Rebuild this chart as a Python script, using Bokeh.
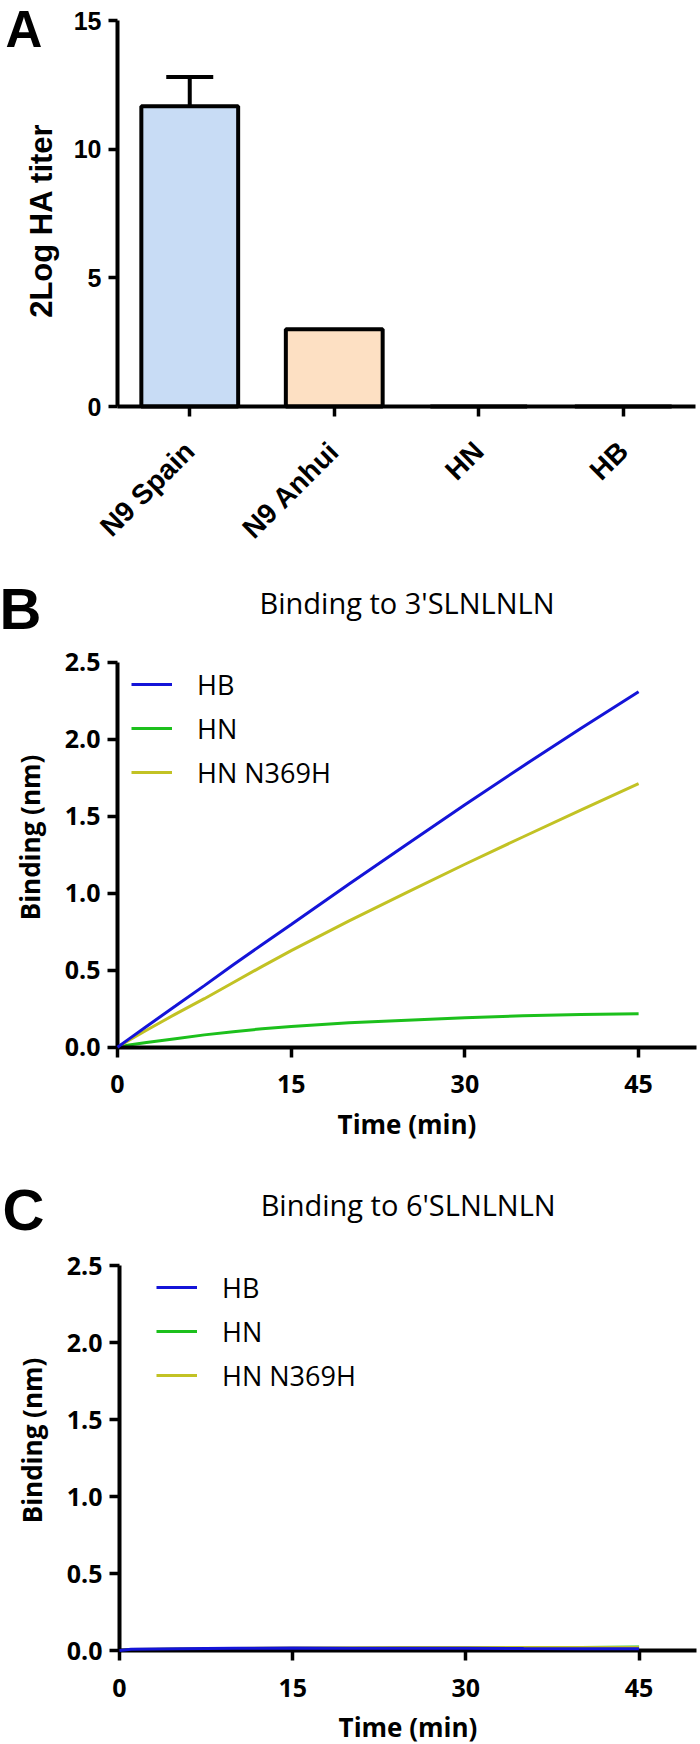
import math
from bokeh.plotting import figure
from bokeh.layouts import column
from bokeh.models import (Range1d, FixedTicker, Whisker, TeeHead, LinearAxis,
                          ColumnDataSource, Legend, LegendItem, Label,
                          NumeralTickFormatter)
from bokeh.embed import file_html
from bokeh.resources import INLINE

# ---------------- Panel A data ----------------
strains = ["N9 Spain", "N9 Anhui", "HN", "HB"]
titer_mean = [11.67, 3.0, 0.0, 0.0]
titer_err = [1.13, 0.0, 0.0, 0.0]
bar_colors = ["#c8dcf5", "#fde0c3", "#ffffff", "#ffffff"]
titer_ticks = [0, 5, 10, 15]

# ---------------- Panel B data (3'SLNLNLN) ----------------
time_b = [0, 1, 2.5, 5, 7.5, 10, 12.5, 15, 20, 25, 30, 35, 40, 45]
hb_b = [0, 0.054, 0.135, 0.267, 0.40, 0.535, 0.667, 0.797, 1.06, 1.318, 1.574, 1.825, 2.07, 2.308]
hn_b = [0, 0.014, 0.03, 0.055, 0.08, 0.10, 0.12, 0.134, 0.158, 0.175, 0.192, 0.204, 0.212, 0.218]
hnm_b = [0, 0.045, 0.11, 0.215, 0.315, 0.42, 0.525, 0.627, 0.82, 1.005, 1.188, 1.365, 1.54, 1.711]

# ---------------- Panel C data (6'SLNLNLN) ----------------
time_c = [0, 1, 5, 10, 15, 20, 25, 30, 35, 40, 45]
hb_c = [0.0, 0.008, 0.012, 0.014, 0.016, 0.015, 0.014, 0.015, 0.013, 0.012, 0.012]
hn_c = [0.0, 0.005, 0.008, 0.010, 0.012, 0.013, 0.014, 0.016, 0.018, 0.020, 0.022]
hnm_c = [0.0, 0.006, 0.010, 0.013, 0.016, 0.018, 0.019, 0.020, 0.019, 0.020, 0.020]

time_ticks = [0, 15, 30, 45]
binding_ticks = [0, 0.5, 1.0, 1.5, 2.0, 2.5]
series_names = ["HB", "HN", "HN N369H"]
series_colors = ["#1414d8", "#1cc01c", "#c2c224"]

ARIAL = "Liberation Sans"
CAL = "Open Sans"
W = 700


def span_range(v0, p0, v1, p1, total):
    """Range whose pixel p0 shows v0 and pixel p1 shows v1 (pixels from left/top)."""
    s = (v1 - v0) / (p1 - p0)
    a = v0 + (0 - p0) * s
    b = v0 + (total - p0) * s
    return Range1d(min(a, b), max(a, b))


def make_axis(cls_kwargs, font, tick_size, line_w=4, tick_w=3.5):
    ax = LinearAxis(**cls_kwargs)
    ax.axis_line_width = line_w
    ax.axis_line_color = "black"
    ax.major_tick_line_width = tick_w
    ax.major_tick_line_color = "black"
    ax.major_tick_in = 0
    ax.major_tick_out = 10
    ax.minor_tick_line_color = None
    ax.major_label_text_font = font
    ax.major_label_text_font_style = "bold"
    ax.major_label_text_font_size = tick_size
    ax.major_label_text_color = "black"
    ax.axis_label_text_font = font
    ax.axis_label_text_font_style = "bold"
    ax.axis_label_text_color = "black"
    return ax


def base_fig(height, x_range, y_range):
    p = figure(width=W, height=height, x_range=x_range, y_range=y_range,
               output_backend="svg", toolbar_location=None,
               x_axis_location=None, y_axis_location=None,
               min_border=0, min_border_left=0, min_border_right=0,
               min_border_top=0, min_border_bottom=0)
    p.xgrid.grid_line_color = None
    p.ygrid.grid_line_color = None
    p.outline_line_color = None
    p.background_fill_color = "white"
    p.border_fill_color = "white"
    return p


def text_label(text, x, y_top, height, font, size, style="normal", align="left",
               baseline="alphabetic", angle=0.0):
    """y_top: wanted baseline (or centre) in pixels from the canvas top."""
    y = height - y_top
    if baseline == "alphabetic":
        y += 0.41 * size          # renderer places the baseline below the anchor
    return Label(x=x, y=y, x_units="screen", y_units="screen", text=text,
                 text_font=font, text_font_style=style, text_font_size=f"{size}px",
                 text_align=align, text_baseline=baseline, angle=angle,
                 text_color="black")


# page rows (pixels from the page top)
A_TOP, B_TOP, C_TOP, PAGE_H = 0, 570, 1170, 1744

# ================= Panel A =================
HA = B_TOP - A_TOP
pos = [i + 1 for i in range(len(strains))]          # category slots 1..n
pA = base_fig(HA,
              span_range(0.5, 117, len(strains) + 0.5, 695, W),
              span_range(0, 406 - A_TOP, 15, 20 - A_TOP, HA))
srcA = ColumnDataSource(dict(x=pos, top=titer_mean, color=bar_colors))
pA.vbar(x="x", top="top", width=0.67, source=srcA, fill_color="color",
        line_color="black", line_width=4)
err_x = [x for x, e in zip(pos, titer_err) if e > 0]
err_lo = [m for m, e in zip(titer_mean, titer_err) if e > 0]
err_hi = [m + e for m, e in zip(titer_mean, titer_err) if e > 0]
srcE = ColumnDataSource(dict(base=err_x, lower=err_lo, upper=err_hi))
pA.add_layout(Whisker(source=srcE, base="base", lower="lower", upper="upper",
                      line_width=4, line_color="black", lower_head=None,
                      upper_head=TeeHead(size=47, line_width=4, line_color="black"),
                      level="glyph"))
ayA = make_axis(dict(fixed_location=0.5, bounds=(0, 15)), ARIAL, "25px")
ayA.ticker = FixedTicker(ticks=titer_ticks)
ayA.major_label_standoff = 7
ayA.major_tick_out = 9
pA.add_layout(ayA, "left")
axA = make_axis(dict(fixed_location=0, bounds=(0.5, len(strains) + 0.5)), ARIAL, "28px")
axA.ticker = FixedTicker(ticks=pos)
axA.major_label_overrides = {p_: s for p_, s in zip(pos, strains)}
axA.major_label_orientation = math.pi / 4
axA.major_label_standoff = 30
pA.add_layout(axA, "below")
pA.add_layout(text_label("2Log HA titer", 41, 220 - A_TOP, HA, ARIAL, 31, "bold",
                         align="center", baseline="middle", angle=math.pi / 2))
pA.add_layout(text_label("A", 5, 50 - A_TOP, HA, ARIAL, 51, "bold"))


# ================= Panels B / C =================
def binding_fig(title, t, ys, fig_top, height, left, right, top, bottom, legend_x,
                letter, letter_x, letter_base, title_base, ylab_x, ylab_y):
    # all vertical positions given in page pixels, converted to canvas pixels
    top, bottom = top - fig_top, bottom - fig_top
    p = base_fig(height,
                 span_range(0, left, 50, right, W),
                 span_range(0, bottom, 2.5, top, height))
    rends = []
    for y, c in zip(ys, series_colors):
        rends.append(p.line(t, y, line_color=c, line_width=3))
    rends[0].level = "overlay"
    ay = make_axis(dict(fixed_location=0, bounds=(0, 2.5)), CAL, "25px")
    ay.ticker = FixedTicker(ticks=binding_ticks)
    ay.formatter = NumeralTickFormatter(format="0.0")
    ay.major_label_standoff = 7
    p.add_layout(ay, "left")
    ax = make_axis(dict(fixed_location=0, bounds=(0, 50)), CAL, "25px")
    ax.ticker = FixedTicker(ticks=time_ticks)
    ax.axis_label = "Time (min)"
    ax.axis_label_text_font_size = "26px"
    ax.axis_label_standoff = 9
    ax.major_label_standoff = 18
    p.add_layout(ax, "below")
    items = [LegendItem(label=n, renderers=[r]) for n, r in zip(series_names, rends)]
    row_h = 44
    leg_top = top + 22.3 - row_h / 2
    leg_bottom_from_canvas_bottom = height - (leg_top + 3 * row_h)
    leg = Legend(items=items, location=(legend_x, leg_bottom_from_canvas_bottom),
                 padding=0, margin=0, spacing=0, glyph_width=41, glyph_height=row_h,
                 label_height=row_h, label_standoff=25, label_text_font=CAL,
                 label_text_font_size="27px", label_text_color="black",
                 border_line_color=None, background_fill_alpha=0)
    p.add_layout(leg, "center")
    p.add_layout(text_label("Binding (nm)", ylab_x, ylab_y - fig_top, height, CAL, 26,
                            "bold", align="center", baseline="middle",
                            angle=math.pi / 2))
    p.add_layout(text_label(title, (left + right) / 2, title_base - fig_top, height,
                            CAL, 29, align="center"))
    p.add_layout(text_label(letter, letter_x, letter_base - fig_top, height,
                            ARIAL, 58, "bold"))
    return p


pB = binding_fig("Binding to 3'SLNLNLN", time_b, [hb_b, hn_b, hnm_b],
                 B_TOP, C_TOP - B_TOP, 117, 696, 661.7, 1046.7, 131,
                 "B", -1, 632, 613.7, 29, 837)
pC = binding_fig("Binding to 6'SLNLNLN", time_c, [hb_c, hn_c, hnm_c],
                 C_TOP, PAGE_H - C_TOP, 119, 696.3, 1265, 1650, 156,
                 "C", 2, 1233, 1216, 31, 1440)

layout = column(pA, pB, pC)
open("out.html", "w").write(file_html(layout, INLINE))
